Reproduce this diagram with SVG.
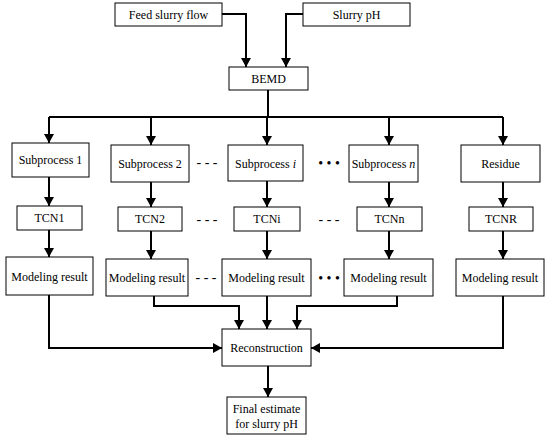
<svg xmlns="http://www.w3.org/2000/svg" width="550" height="437" viewBox="0 0 550 437">
<defs>
<marker id="ah" markerWidth="10" markerHeight="10" refX="9" refY="5" orient="auto" markerUnits="userSpaceOnUse">
<path d="M0,0 L9,5 L0,10 Z" fill="#000"/>
</marker>
<style>
.box{fill:#fff;stroke:#000;stroke-width:1}
.t{font-size:12px;text-anchor:middle;fill:#000}
.c{fill:none;stroke:#000;stroke-width:2;marker-end:url(#ah)}
.l{fill:none;stroke:#000;stroke-width:2}
.d{font-size:14px;text-anchor:middle;fill:#000}
</style>
</defs>
<rect width="550" height="437" fill="#fff"/>
<g id="connectors">
<path class="c" d="M222,14 H246 V67"/>
<path class="c" d="M303,14 H286 V67"/>
<path class="l" d="M268,90 V117"/>
<path class="l" d="M49,117 H503"/>
<path class="c" d="M49,117 V143"/>
<path class="c" d="M151,117 V145"/>
<path class="c" d="M267,117 V145"/>
<path class="c" d="M389,117 V145"/>
<path class="c" d="M503,117 V145"/>
<path class="c" d="M49,177 V206"/>
<path class="c" d="M151,182 V207"/>
<path class="c" d="M267,181 V207"/>
<path class="c" d="M389,182 V207"/>
<path class="c" d="M503,182 V207"/>
<path class="c" d="M49,230 V257"/>
<path class="c" d="M151,231 V259"/>
<path class="c" d="M267,231 V259"/>
<path class="c" d="M389,231 V259"/>
<path class="c" d="M503,231 V259"/>
<path class="c" d="M154,296 V306 H239 V329"/>
<path class="c" d="M267,296 V329"/>
<path class="c" d="M397,296 V306 H297 V329"/>
<path class="c" d="M49,295 V348 H222"/>
<path class="c" d="M503,296 V348 H311"/>
<path class="c" d="M268,366 V397"/>
</g>
<g font-family="'Liberation Serif', 'Times New Roman', Times, serif">
<g id="feed"><rect class="box" x="115" y="3" width="107" height="23"/><text class="t" x="168.5" y="19">Feed slurry flow</text></g>
<g id="slurryph"><rect class="box" x="303" y="3" width="107" height="23"/><text class="t" x="356.5" y="19">Slurry pH</text></g>
<g id="bemd"><rect class="box" x="229" y="67" width="79" height="23"/><text class="t" x="268.5" y="83">BEMD</text></g>
<g id="sub1"><rect class="box" x="12" y="143" width="77" height="34"/><text class="t" x="50.5" y="164">Subprocess 1</text></g>
<g id="sub2"><rect class="box" x="111" y="145" width="78" height="37"/><text class="t" x="150" y="168">Subprocess 2</text></g>
<g id="subi"><rect class="box" x="228" y="145" width="75" height="36"/><text class="t" x="265.5" y="168">Subprocess <tspan font-style="italic">i</tspan></text></g>
<g id="subn"><rect class="box" x="349" y="145" width="69" height="37"/><text class="t" x="383.5" y="168">Subprocess <tspan font-style="italic">n</tspan></text></g>
<g id="residue"><rect class="box" x="461" y="145" width="79" height="37"/><text class="t" x="500.5" y="168">Residue</text></g>
<g id="tcn1"><rect class="box" x="17" y="206" width="65" height="24"/><text class="t" x="49.5" y="222">TCN1</text></g>
<g id="tcn2"><rect class="box" x="118" y="207" width="64" height="24"/><text class="t" x="150" y="223">TCN2</text></g>
<g id="tcni"><rect class="box" x="234" y="207" width="66" height="24"/><text class="t" x="267" y="223">TCNi</text></g>
<g id="tcnn"><rect class="box" x="357" y="207" width="65" height="24"/><text class="t" x="389.5" y="223">TCNn</text></g>
<g id="tcnr"><rect class="box" x="469" y="207" width="64" height="24"/><text class="t" x="501" y="223">TCNR</text></g>
<g id="mr1"><rect class="box" x="6" y="257" width="87" height="38"/><text class="t" x="49.5" y="281">Modeling result</text></g>
<g id="mr2"><rect class="box" x="106" y="259" width="82" height="37"/><text class="t" x="147" y="282">Modeling result</text></g>
<g id="mri"><rect class="box" x="222" y="259" width="89" height="37"/><text class="t" x="266.5" y="282">Modeling result</text></g>
<g id="mrn"><rect class="box" x="344" y="259" width="89" height="37"/><text class="t" x="388.5" y="282">Modeling result</text></g>
<g id="mrr"><rect class="box" x="456" y="259" width="88" height="37"/><text class="t" x="500" y="282">Modeling result</text></g>
<g id="recon"><rect class="box" x="222" y="329" width="89" height="37"/><text class="t" x="266.5" y="352">Reconstruction</text></g>
<g id="final"><rect class="box" x="227" y="397" width="79" height="37"/><text class="t" x="266.5" y="413">Final estimate</text><text class="t" x="266.5" y="428">for slurry pH</text></g>
<g id="ellipses">
<text class="d" x="207" y="167">- - -</text>
<text class="d" x="329" y="168">• • •</text>
<text class="d" x="207" y="224">- - -</text>
<text class="d" x="329" y="224">- - -</text>
<text class="d" x="206" y="282">- - -</text>
<text class="d" x="329" y="283">• • •</text>
</g>
</g>
</svg>
